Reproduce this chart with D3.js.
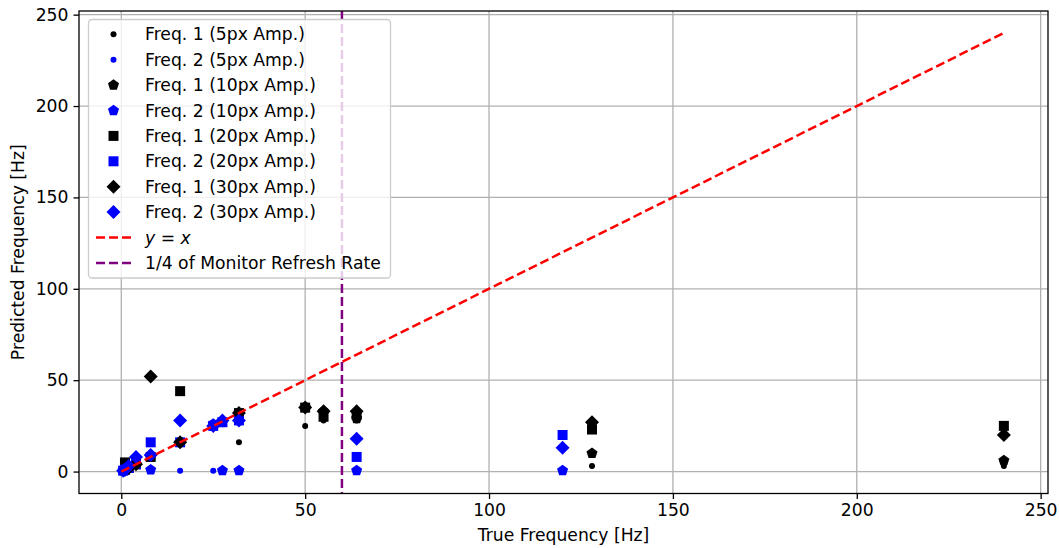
<!DOCTYPE html>
<html>
<head>
<meta charset="utf-8">
<script src="https://cdn.jsdelivr.net/npm/d3@7"></script>
<style>
  body { margin: 0; background: #fff; }
  svg { font-family: "DejaVu Sans", sans-serif; }
</style>
</head>
<body>
<div id="chart"></div>
<script>
// true frequencies tested for each of the two signals
var freq1True = [1, 2, 4, 8, 16, 32, 50, 55, 64, 128, 240];
var freq2True = [0.5, 1, 2, 4, 8, 16, 25, 27.5, 32, 64, 120];

// predicted frequencies
var freq1Amp5  = [1, 2, 4, 8, 16, 16, 25, 28, 28, 3, 3];
var freq2Amp5  = [0.5, 1, 2, 4, 8, 0.5, 0.5, 0.5, 0.5, 0.5, 0.5];
var freq1Amp10 = [1, 2, 4, 8, 16, 32, 35, 33, 29, 10, 6];
var freq2Amp10 = [0.5, 1, 2, 4, 1, 16, 26, 0.5, 0.5, 0.5, 0.5];
var freq1Amp20 = [5, 2, 4, 8, 44, 32, 35, 30, 31, 23, 25];
var freq2Amp20 = [0.5, 1, 2, 4, 16, 16, 25, 27, 28, 8, 20];
var freq1Amp30 = [1, 2, 4, 52, 16, 32, 35, 33, 33, 27, 20];
var freq2Amp30 = [0.5, 1, 3, 8, 9, 28, 25, 28, 28, 18, 13];

var xTicks = [0, 50, 100, 150, 200, 250];
var yTicks = [0, 50, 100, 150, 200, 250];
var identityLine = [0, 240];
var refreshQuarter = 60;

var series = [
	{ label: 'Freq. 1 (5px Amp.)',  x: freq1True, y: freq1Amp5,  color: '#000', shape: 'dot' },
	{ label: 'Freq. 2 (5px Amp.)',  x: freq2True, y: freq2Amp5,  color: '#00f', shape: 'dot' },
	{ label: 'Freq. 1 (10px Amp.)', x: freq1True, y: freq1Amp10, color: '#000', shape: 'pentagon' },
	{ label: 'Freq. 2 (10px Amp.)', x: freq2True, y: freq2Amp10, color: '#00f', shape: 'pentagon' },
	{ label: 'Freq. 1 (20px Amp.)', x: freq1True, y: freq1Amp20, color: '#000', shape: 'square' },
	{ label: 'Freq. 2 (20px Amp.)', x: freq2True, y: freq2Amp20, color: '#00f', shape: 'square' },
	{ label: 'Freq. 1 (30px Amp.)', x: freq1True, y: freq1Amp30, color: '#000', shape: 'diamond' },
	{ label: 'Freq. 2 (30px Amp.)', x: freq2True, y: freq2Amp30, color: '#00f', shape: 'diamond' },
];

var W = 1059, H = 548;
var margin = { left: 79, right: 11, top: 11, bottom: 54.5 };
var fontSize = 17.2;
var dash = '9,4';

var svg = d3.select('#chart').append('svg')
	.attr('width', W)
	.attr('height', H);

var x = d3.scaleLinear().domain([-11.5, 252]).range([margin.left, W - margin.right]);
var y = d3.scaleLinear().domain([-12, 252]).range([H - margin.bottom, margin.top]);

// marker paths, centred on 0,0
function markerPath(shape) {
	if (shape === 'dot') {
		return d3.symbol(d3.symbolCircle, Math.PI * 3 * 3)();
	}
	if (shape === 'square') {
		var s = 5;
		return `M${-s},${-s}H${s}V${s}H${-s}Z`;
	}
	if (shape === 'diamond') {
		var d = 7;
		return `M0,${-d}L${d},0L0,${d}L${-d},0Z`;
	}
	// pentagon, point up
	var r = 5.8, pts = [];
	for (var i = 0; i < 5; i++) {
		var a = -Math.PI / 2 + i * 2 * Math.PI / 5;
		pts.push([r * Math.cos(a), r * Math.sin(a)]);
	}
	return 'M' + pts.map(p => p[0].toFixed(2) + ',' + p[1].toFixed(2)).join('L') + 'Z';
}

// grid
var grid = svg.append('g');
grid.selectAll('line.gx').data(xTicks).enter().append('line')
	.attr('x1', d => x(d)).attr('x2', d => x(d))
	.attr('y1', margin.top).attr('y2', H - margin.bottom)
	.attr('stroke', '#b0b0b0').attr('stroke-width', 1.3);
grid.selectAll('line.gy').data(yTicks).enter().append('line')
	.attr('y1', d => y(d)).attr('y2', d => y(d))
	.attr('x1', margin.left).attr('x2', W - margin.right)
	.attr('stroke', '#b0b0b0').attr('stroke-width', 1.3);

// scatter points
var pointsG = svg.append('g');
series.forEach(function (s) {
	var pts = s.x.map((v, i) => [v, s.y[i]]);
	pointsG.append('g').selectAll('path').data(pts).enter().append('path')
		.attr('d', markerPath(s.shape))
		.attr('transform', d => `translate(${x(d[0])},${y(d[1])})`)
		.attr('fill', s.color);
});

// y = x
svg.append('line')
	.attr('x1', x(identityLine[0])).attr('y1', y(identityLine[0]))
	.attr('x2', x(identityLine[1])).attr('y2', y(identityLine[1]))
	.attr('stroke', '#f00').attr('stroke-width', 2.5)
	.attr('stroke-dasharray', dash);

// 1/4 monitor refresh rate
svg.append('line')
	.attr('x1', x(refreshQuarter)).attr('x2', x(refreshQuarter))
	.attr('y1', margin.top).attr('y2', H - margin.bottom)
	.attr('stroke', '#800080').attr('stroke-width', 2.5)
	.attr('stroke-dasharray', dash);

// axes
var xAxis = svg.append('g')
	.attr('transform', `translate(0,${H - margin.bottom})`)
	.call(d3.axisBottom(x).tickValues(xTicks).tickSize(5.5).tickPadding(5).tickFormat(d3.format('d')));
var yAxis = svg.append('g')
	.attr('transform', `translate(${margin.left},0)`)
	.call(d3.axisLeft(y).tickValues(yTicks).tickSize(5.5).tickPadding(5).tickFormat(d3.format('d')));
[xAxis, yAxis].forEach(function (a) {
	a.select('.domain').remove();
	a.selectAll('text').attr('font-size', fontSize).attr('fill', '#000').attr('font-family', '"DejaVu Sans", sans-serif');
	a.selectAll('.tick line').attr('stroke', '#000').attr('stroke-width', 1.3);
});

// frame
svg.append('rect')
	.attr('x', margin.left).attr('y', margin.top)
	.attr('width', W - margin.left - margin.right)
	.attr('height', H - margin.top - margin.bottom)
	.attr('fill', 'none').attr('stroke', '#000').attr('stroke-width', 1.3);

svg.append('text')
	.attr('x', (margin.left + W - margin.right) / 2).attr('y', 541)
	.attr('text-anchor', 'middle').attr('font-size', fontSize)
	.text('True Frequency [Hz]');
svg.append('text')
	.attr('transform', `translate(24,${(margin.top + H - margin.bottom) / 2}) rotate(-90)`)
	.attr('text-anchor', 'middle').attr('font-size', fontSize)
	.text('Predicted Frequency [Hz]');

// legend
var legend = svg.append('g');
legend.append('rect')
	.attr('x', 88.5).attr('y', 19.5).attr('width', 302).attr('height', 258.5)
	.attr('rx', 3.5)
	.attr('fill', '#fff').attr('fill-opacity', 0.8)
	.attr('stroke', '#ccc').attr('stroke-width', 1.3);

var rowY = i => 34.3 + i * 25.4;
series.forEach(function (s, i) {
	legend.append('path')
		.attr('d', markerPath(s.shape))
		.attr('transform', `translate(113.5,${rowY(i)})`)
		.attr('fill', s.color);
	legend.append('text')
		.attr('x', 145).attr('y', rowY(i) + 6)
		.attr('font-size', fontSize)
		.text(s.label);
});

var lineItems = [
	{ color: '#f00', label: null },
	{ color: '#800080', label: '1/4 of Monitor Refresh Rate' },
];
lineItems.forEach(function (l, j) {
	var ly = rowY(8 + j);
	legend.append('line')
		.attr('x1', 96).attr('x2', 132).attr('y1', ly).attr('y2', ly)
		.attr('stroke', l.color).attr('stroke-width', 2.5)
		.attr('stroke-dasharray', dash);
	var t = legend.append('text')
		.attr('x', 145).attr('y', ly + 6)
		.attr('font-size', fontSize);
	if (l.label) {
		t.text(l.label);
	} else {
		t.append('tspan').attr('font-style', 'italic').text('y');
		t.append('tspan').text(' = ');
		t.append('tspan').attr('font-style', 'italic').text('x');
	}
});
</script>
</body>
</html>
